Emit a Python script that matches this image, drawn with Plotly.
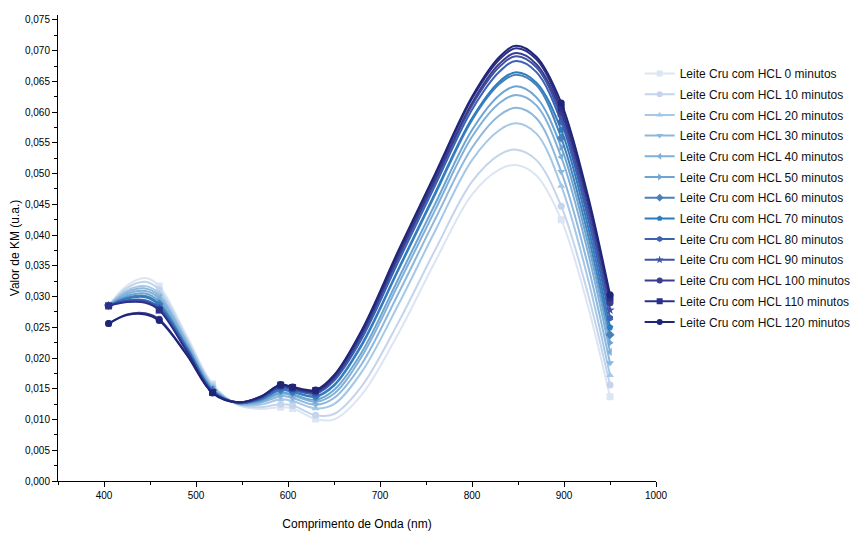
import plotly.graph_objects as go

# Wavelength grid (nm) at which the drawn curves were read
wavelength = [405, 425, 445, 460, 490, 518, 545, 570, 592, 605, 630, 650, 680, 720, 760, 800, 830, 848, 870, 897, 925, 950]
# Measured wavelengths carrying symbols
sample_wavelength = [405, 460, 518, 592, 605, 630, 897, 950]

series_names = [f"Leite Cru com HCL {m} minutos" for m in [0, 10, 20, 30, 40, 50, 60, 70, 80, 90, 100, 110, 120]]

km_0 = [.0285, .0318, .0330, .0317, .0236, .0158, .0124, .0117, .0120, .0118, .0101, .0100, .0140, .0240, .0357, .0466, .0507, .0514, .0497, .0425, .0290, .0137]
km_10 = [.0285, .0314, .0324, .0311, .0232, .0156, .0125, .0120, .0125, .0123, .0107, .0109, .0154, .0258, .0376, .0487, .0531, .0539, .0522, .0447, .0310, .0156]
km_20 = [.0285, .0310, .0317, .0305, .0228, .0154, .0125, .0124, .0133, .0130, .0118, .0125, .0177, .0287, .0407, .0522, .0571, .0582, .0565, .0480, .0335, .0172]
km_30 = [.0285, .0307, .0313, .0301, .0226, .0152, .0126, .0127, .0138, .0135, .0124, .0135, .0190, .0305, .0426, .0542, .0595, .0607, .0590, .0503, .0357, .0192]
km_40 = [.0285, .0304, .0309, .0297, .0223, .0151, .0126, .0129, .0142, .0139, .0129, .0142, .0202, .0320, .0441, .0560, .0615, .0628, .0611, .0527, .0378, .0210]
km_50 = [.0285, .0301, .0305, .0292, .0220, .0149, .0127, .0130, .0144, .0141, .0132, .0148, .0209, .0329, .0451, .0571, .0628, .0642, .0624, .0543, .0393, .0225]
km_60 = [.0285, .0298, .0301, .0288, .0218, .0148, .0127, .0132, .0148, .0145, .0137, .0155, .0220, .0343, .0466, .0587, .0646, .0661, .0644, .0558, .0407, .0238]
km_70 = [.0285, .0297, .0299, .0286, .0217, .0147, .0127, .0133, .0149, .0145, .0138, .0156, .0222, .0345, .0469, .0590, .0650, .0665, .0648, .0571, .0421, .0250]
km_80 = [.0285, .0294, .0294, .0282, .0214, .0145, .0127, .0134, .0152, .0148, .0142, .0163, .0231, .0357, .0481, .0604, .0666, .0683, .0665, .0584, .0434, .0265]
km_90 = [.0285, .0293, .0292, .0280, .0213, .0145, .0128, .0135, .0154, .0150, .0144, .0166, .0236, .0363, .0487, .0611, .0674, .0691, .0673, .0592, .0445, .0278]
km_100 = [.0256, .0271, .0273, .0263, .0206, .0144, .0128, .0136, .0155, .0151, .0145, .0168, .0239, .0367, .0491, .0615, .0679, .0696, .0678, .0600, .0456, .0290]
km_110 = [.0285, .0291, .0290, .0278, .0211, .0144, .0128, .0137, .0156, .0152, .0147, .0171, .0243, .0372, .0497, .0622, .0686, .0704, .0686, .0607, .0463, .0298]
km_120 = [.0256, .0270, .0271, .0261, .0205, .0143, .0128, .0137, .0157, .0153, .0148, .0172, .0245, .0375, .0500, .0625, .0690, .0708, .0690, .0615, .0470, .0303]

all_series = [km_0, km_10, km_20, km_30, km_40, km_50, km_60, km_70, km_80, km_90, km_100, km_110, km_120]

colors = ["#dce5f3", "#c4d4ec", "#a4c8e8", "#8db7dc", "#80b0d8", "#6ca4d4", "#4a80b8",
          "#2c7dbf", "#3c62b4", "#3f52a6", "#3b3d8c", "#2d3088", "#1f2677"]
symbols = ["square", "circle", "triangle-up", "triangle-down", "triangle-left", "triangle-right",
           "diamond", "pentagon", "hexagon", "star", "circle", "square", "circle"]

fig = go.Figure()
for name, vals, col, sym in zip(series_names, all_series, colors, symbols):
    fig.add_trace(go.Scatter(x=wavelength, y=vals, mode="lines",
                             line=dict(color=col, width=2, shape="spline", smoothing=1),
                             showlegend=False, hoverinfo="skip"))
    sx = [w for w in wavelength if w in sample_wavelength]
    sy = [v for w, v in zip(wavelength, vals) if w in sample_wavelength]
    fig.add_trace(go.Scatter(x=sx, y=sy, mode="markers",
                             marker=dict(color=col, symbol=sym, size=7),
                             showlegend=False))
    fig.add_trace(go.Scatter(x=[None], y=[None], mode="lines+markers", name=name,
                             legendgroup=name,
                             line=dict(color=col, width=2),
                             marker=dict(color=col, symbol=sym, size=6)))

axis_font = dict(family="Liberation Sans, Arial, sans-serif", size=10, color="#000")
fig.update_layout(
    width=865, height=538,
    margin=dict(l=50, r=217, t=7, b=65, autoexpand=False),
    paper_bgcolor="white", plot_bgcolor="white",
    separators=",.",
    font=dict(family="Liberation Sans, Arial, sans-serif", size=12, color="#000"),
    legend=dict(x=0.9727, y=0.9056, xanchor="left", yanchor="top",
                font=dict(size=12, color="#111"), bgcolor="rgba(0,0,0,0)",
                tracegroupgap=1.7),
    xaxis=dict(range=[350, 1000], dtick=100, tick0=0, showgrid=False, zeroline=False,
               automargin=False,
               showline=True, linecolor="#000", linewidth=1, ticks="outside", ticklen=5,
               tickcolor="#000", tickfont=axis_font,
               minor=dict(ticks="outside", dtick=50, ticklen=3, tickcolor="#000"),
               title=dict(text="Comprimento de Onda (nm)", font=dict(size=12), standoff=19)),
    yaxis=dict(range=[0, 0.0758], dtick=0.005, tick0=0, tickformat=".3f", showgrid=False,
               automargin=False,
               zeroline=False, showline=True, linecolor="#000", linewidth=1, ticks="outside",
               ticklen=5, tickcolor="#000", tickfont=axis_font,
               minor=dict(ticks="outside", dtick=0.0025, ticklen=3, tickcolor="#000"),
               title=dict(text="Valor de KM (u.a.)", font=dict(size=12), standoff=5)),
)

fig.write_html("out.html")
